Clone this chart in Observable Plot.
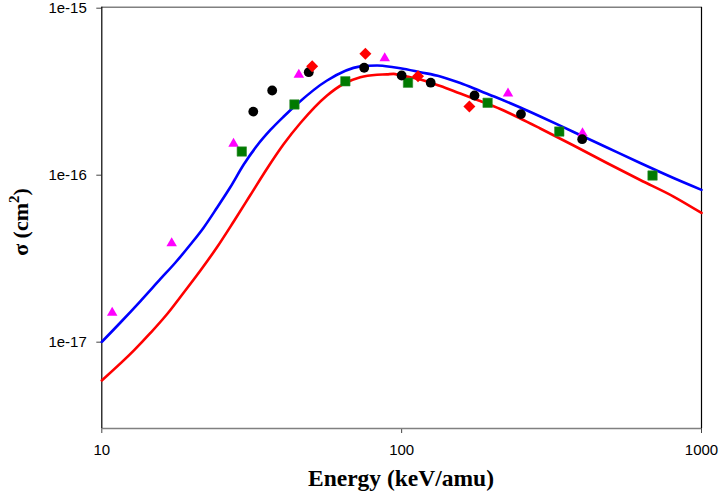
<!DOCTYPE html>
<html><head><meta charset="utf-8">
<script src="https://cdn.jsdelivr.net/npm/d3@7"></script>
<script src="https://cdn.jsdelivr.net/npm/@observablehq/plot@0.6"></script>
<style>body{margin:0;background:#fff}</style>
</head><body><div id="chart"></div>
<script>
// Theory curves (energy in keV/amu, cross section in cm^2)
const blueE = [10, 11.54, 13.46, 15.69, 17.61, 19.75, 21.88, 24.25, 26.85, 29.74, 32.96, 36.5, 40.44, 44.81, 56.4, 72.8, 82.8, 94, 99, 115.4, 134.6, 156.9, 182.9, 213.3, 248.7, 290, 374.5, 483.8, 624.7, 806.6, 1000];
const blueS = [9.9e-18, 1.294e-17, 1.74e-17, 2.358e-17, 2.96e-17, 3.79e-17, 4.8e-17, 6.32e-17, 8.38e-17, 1.143e-16, 1.485e-16, 1.84e-16, 2.216e-16, 2.633e-16, 3.64e-16, 4.42e-16, 4.48e-16, 4.37e-16, 4.31e-16, 4.08e-16, 3.85e-16, 3.516e-16, 3.149e-16, 2.82e-16, 2.508e-16, 2.216e-16, 1.79e-16, 1.445e-16, 1.167e-16, 9.49e-17, 8.06e-17];
const redE = [10, 12.8, 14.53, 16.52, 18.77, 21.33, 24.25, 27.54, 31.3, 35.59, 40.44, 45.96, 56.4, 64.1, 72.8, 82.8, 89.4, 94, 99, 106.9, 115.4, 134.6, 156.9, 182.9, 213.3, 248.7, 290, 374.5, 483.8, 624.7, 806.6, 1000];
const redS = [5.82e-18, 8.8e-18, 1.12e-17, 1.455e-17, 1.957e-17, 2.65e-17, 3.664e-17, 5.21e-17, 7.5e-17, 1.082e-16, 1.516e-16, 2.025e-16, 2.96e-16, 3.48e-16, 3.81e-16, 3.94e-16, 3.96e-16, 3.99e-16, 3.9e-16, 3.81e-16, 3.69e-16, 3.373e-16, 3.04e-16, 2.744e-16, 2.457e-16, 2.156e-16, 1.878e-16, 1.485e-16, 1.167e-16, 9.23e-17, 7.35e-17, 5.86e-17];

// Experimental data sets
const circleE = [32, 37, 49, 75, 100, 125, 175, 250, 400];
const circleS = [2.37e-16, 3.17e-16, 4.08e-16, 4.34e-16, 3.9e-16, 3.53e-16, 2.96e-16, 2.29e-16, 1.62e-16];
const squareE = [29.3, 43.9, 64.9, 105, 193.5, 335.5, 686.6];
const squareS = [1.367e-16, 2.615e-16, 3.6e-16, 3.53e-16, 2.676e-16, 1.8e-16, 9.82e-17];
const triE = [10.83, 17.1, 27.5, 45.4, 87.8, 226.3, 401];
const triS = [1.48e-17, 3.86e-17, 1.52e-16, 3.94e-16, 4.95e-16, 3.04e-16, 1.76e-16];
const diaE = [50.3, 75.7, 113.4, 168.2];
const diaS = [4.43e-16, 5.26e-16, 3.86e-16, 2.54e-16];

const xTicks = [10, 100, 1000];
const yTicks = [1e-17, 1e-16, 1e-15];
const xDomain = [10, 1000];
const yDomain = [3e-18, 1e-15];

const tbl = (E, S) => E.map((e, i) => ({e, s: S[i]}));
const blue = tbl(blueE, blueS), red = tbl(redE, redS);
const circles = tbl(circleE, circleS), squares = tbl(squareE, squareS);
const tris = tbl(triE, triS), dias = tbl(diaE, diaS);

const plot = Plot.plot({
  width: 720, height: 494,
  marginLeft: 101.3, marginRight: 19, marginTop: 6.7, marginBottom: 66,
  style: {fontFamily: "'Liberation Sans', Arial, sans-serif", fontSize: "15px", background: "#fff", color: "#000", overflow: "visible"},
  x: {type: "log", domain: xDomain},
  y: {type: "log", domain: yDomain},
  marks: [
    Plot.axisX({ticks: xTicks, tickFormat: d => String(d), tickSize: 5, tickPadding: 11, label: null, stroke: "#444"}),
    Plot.axisY({ticks: yTicks, tickFormat: d => "1e" + Math.round(Math.log10(d)), tickSize: 5, tickPadding: 10, label: null, stroke: "#444", dy: 1}),
    Plot.ruleY([yDomain[1]], {stroke: "#808080", strokeWidth: 1.6}),
    Plot.ruleY([yDomain[0]], {stroke: "#808080", strokeWidth: 1.6}),
    Plot.ruleX([xDomain[0]], {stroke: "#000", strokeWidth: 1.2}),
    Plot.ruleX([xDomain[1]], {stroke: "#000", strokeWidth: 1.2}),
    Plot.line(blue, {x: "e", y: "s", stroke: "#0000ff", strokeWidth: 2.6, curve: "monotone-x"}),
    Plot.line(red, {x: "e", y: "s", stroke: "#ff0000", strokeWidth: 2.6, curve: "monotone-x"}),
    Plot.dot(tris, {x: "e", y: "s", symbol: "triangle", r: 3.9, fill: "#ff00ff", stroke: "none"}),
    Plot.dot(squares, {x: "e", y: "s", symbol: "square", r: 5.3, fill: "#007a00", stroke: "#2e8b2e", strokeWidth: 0.6}),
    Plot.dot(circles, {x: "e", y: "s", symbol: "circle", r: 4.9, fill: "#000", stroke: "none"}),
    Plot.dot(dias, {x: "e", y: "s", symbol: "diamond2", r: 5.4, fill: "#ff0000", stroke: "none"})
  ]
});

const svg = d3.select(plot);
const serif = "'Liberation Serif', 'Times New Roman', serif";
svg.append("text")
  .attr("x", 401).attr("y", 481)
  .attr("text-anchor", "middle").attr("dominant-baseline", "middle")
  .style("font-family", serif).style("font-weight", "bold").style("font-size", "23.5px")
  .text("Energy (keV/amu)");
const yl = svg.append("text")
  .attr("transform", "translate(23,222) rotate(-90)")
  .attr("text-anchor", "middle").attr("dominant-baseline", "middle")
  .style("font-family", serif).style("font-weight", "bold").style("font-size", "22px");
yl.append("tspan").text("σ (cm");
yl.append("tspan").attr("dy", "-0.45em").style("font-size", "15px").text("2");
yl.append("tspan").attr("dy", "0.3em").text(")");

document.getElementById("chart").appendChild(plot);
</script>
</body></html>
